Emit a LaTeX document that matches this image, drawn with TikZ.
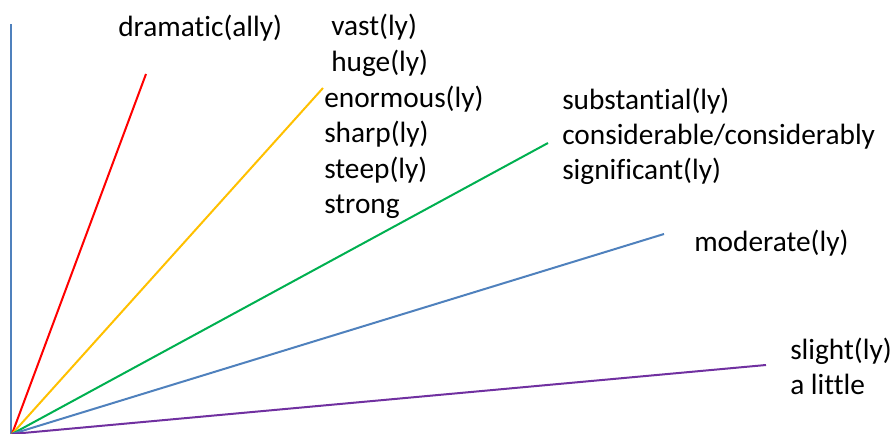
\documentclass[tikz,border=0pt]{standalone}
\usepackage{fontspec}
\setmainfont[Ligatures=CommonOff]{Carlito}
\usepackage{tikz}

\definecolor{cRed}{HTML}{FF0000}
\definecolor{cYellow}{HTML}{FFC000}
\definecolor{cGreen}{HTML}{00B050}
\definecolor{cBlue}{HTML}{4F81BD}
\definecolor{cPurple}{HTML}{7030A0}

\begin{document}
\begin{tikzpicture}[
    x=0.75pt, y=-0.75pt,
    every node/.style={font=\fontsize{22}{27}\selectfont},
    wd/.style={anchor=base west, inner sep=0pt},
    ln/.style={line width=1.5pt},
  ]
  \useasboundingbox (0,0) rectangle (895,434);
  % axis and origin
  \coordinate (o) at (12,434);
  \coordinate (top) at (11,24);
  \draw[ln, cBlue] (11,434) -- (top);
  % end points of the lines
  \coordinate (eRed) at (146,74);
  \coordinate (eYellow) at (323,88);
  \coordinate (eGreen) at (548,143);
  \coordinate (eBlue) at (664,234);
  \coordinate (ePurple) at (766,365);
  \draw[ln, cRed] (o) -- (eRed);
  \draw[ln, cYellow] (o) -- (eYellow);
  \draw[ln, cGreen] (o) -- (eGreen);
  \draw[ln, cBlue] (o) -- (eBlue);
  \draw[ln, cPurple] (o) -- (ePurple);
  % words
  \node[wd] (dram) at (118,37) {dramatic(ally)};
  \node[wd] (vast) at (331,36) {vast(ly)};
  \node[wd] (huge) at (331,72) {huge(ly)};
  \node[wd] (enor) at (324,108) {enormous(ly)};
  \node[wd] (sharp) at (324,143) {sharp(ly)};
  \node[wd] (steep) at (324,179) {steep(ly)};
  \node[wd] (strong) at (324,214) {strong};
  \node[wd] (subst) at (562,110) {substantial(ly)};
  \node[wd] (consid) at (562,145) {considerable/considerably};
  \node[wd] (signif) at (562,180) {significant(ly)};
  \node[wd] (moder) at (694,252) {moderate(ly)};
  \node[wd] (slight) at (790,359) {slight(ly)};
  \node[wd] (little) at (790,394) {a little};
\end{tikzpicture}
\end{document}
